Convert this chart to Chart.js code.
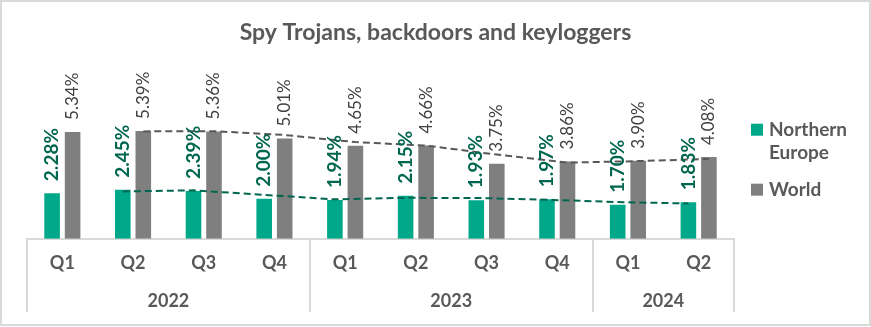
<!DOCTYPE html>
<html>
<head>
<meta charset="utf-8">
<title>Spy Trojans, backdoors and keyloggers</title>
<script src="https://cdn.jsdelivr.net/npm/chart.js@4.4.1/dist/chart.umd.min.js"></script>
<style>
  html, body { margin: 0; padding: 0; background: #fff; }
</style>
</head>
<body>
<canvas id="chart" width="871" height="327"></canvas>
<script>
// data
const QUARTERS = ['Q1', 'Q2', 'Q3', 'Q4', 'Q1', 'Q2', 'Q3', 'Q4', 'Q1', 'Q2'];
const YEARS = ['2022', '2023', '2024'];
const QUARTERS_PER_YEAR = [4, 4, 2];
const NORTHERN_EUROPE = [2.28, 2.45, 2.39, 2.00, 1.94, 2.15, 1.93, 1.97, 1.70, 1.83];
const WORLD = [5.34, 5.39, 5.36, 5.01, 4.65, 4.66, 3.75, 3.86, 3.90, 4.08];
const SERIES_NAMES = [['Northern', 'Europe'], ['World']];

const FONT = 'Lato';
const TEXT_GREY = '#595959';
const BAR_COLORS = ['#00A88A', '#7F7F7F'];
const LABEL_COLORS = ['#00664F', '#404040'];
const TREND_COLORS = ['#00664F', '#595959'];
const CAT_PCT = 0.58;
const BAR_PCT = 0.76;

const points = values => values.map((v, i) => ({ x: i, y: v }));

// 2-period moving average trendline (as in the spreadsheet), placed over each bar
function movingAverage(values, side) {
    const shift = side * CAT_PCT / 4;
    const pts = [];
    for (let i = 1; i < values.length; i++) {
        pts.push({ x: i + shift, y: (values[i - 1] + values[i]) / 2 });
    }
    return pts;
}

// year boundaries and centres in category units
const yearEdges = [-0.5];
const yearCentres = [];
QUARTERS_PER_YEAR.forEach(n => {
    const start = yearEdges[yearEdges.length - 1];
    yearCentres.push(start + n / 2);
    yearEdges.push(start + n);
});

const frame = {
    id: 'frame',
    beforeDraw(chart) {
        const ctx = chart.ctx;
        ctx.save();
        ctx.fillStyle = '#fff';
        ctx.fillRect(0, 0, chart.width, chart.height);
        ctx.restore();
    },
    afterDraw(chart) {
        const ctx = chart.ctx;
        const area = chart.chartArea;
        const x = chart.scales.x;
        ctx.save();
        ctx.strokeStyle = '#D9D9D9';
        ctx.lineWidth = 2;
        ctx.strokeRect(1, 1, chart.width - 2, chart.height - 3);
        // year separators under the axis
        yearEdges.forEach(v => {
            const px = Math.round(x.getPixelForValue(v));
            ctx.beginPath();
            ctx.moveTo(px, area.bottom);
            ctx.lineTo(px, area.bottom + 73);
            ctx.stroke();
        });
        // legend
        let y = (area.top + area.bottom) / 2 - 19;
        const boxX = area.right + 17;
        ctx.font = 'bold 19px ' + FONT;
        ctx.textBaseline = 'middle';
        ctx.textAlign = 'left';
        SERIES_NAMES.forEach((lines, k) => {
            ctx.fillStyle = BAR_COLORS[k];
            ctx.fillRect(boxX, y - 6, 12, 12);
            ctx.fillStyle = TEXT_GREY;
            lines.forEach((t, j) => {
                ctx.fillText(t, boxX + 18, y + j * 23);
            });
            y += lines.length * 23 + 14;
        });
        ctx.restore();
    }
};

const barLabels = {
    id: 'barLabels',
    afterDatasetsDraw(chart) {
        const ctx = chart.ctx;
        [0, 1].forEach(di => {
            const meta = chart.getDatasetMeta(di);
            ctx.save();
            ctx.fillStyle = LABEL_COLORS[di];
            ctx.font = di === 0 ? 'bold 19px ' + FONT : '17px ' + FONT;
            ctx.textAlign = 'left';
            ctx.textBaseline = 'middle';
            meta.data.forEach((bar, i) => {
                const v = chart.data.datasets[di].data[i].y;
                ctx.save();
                ctx.translate(bar.x, bar.y - 12);
                ctx.rotate(-Math.PI / 2);
                ctx.fillText(v.toFixed(2) + '%', 0, 0);
                ctx.restore();
            });
            ctx.restore();
        });
    }
};

const hiddenAxis = (position, width) => ({
    position: position,
    display: true,
    grid: { display: false },
    border: { display: false },
    ticks: { display: false },
    afterFit(scale) { scale.width = width; }
});

new Chart(document.getElementById('chart'), {
    type: 'bar',
    data: {
        datasets: [
            {
                label: 'Northern Europe',
                data: points(NORTHERN_EUROPE),
                backgroundColor: BAR_COLORS[0],
                categoryPercentage: CAT_PCT,
                barPercentage: BAR_PCT,
                order: 1
            },
            {
                label: 'World',
                data: points(WORLD),
                backgroundColor: BAR_COLORS[1],
                categoryPercentage: CAT_PCT,
                barPercentage: BAR_PCT,
                order: 1
            },
            {
                type: 'line',
                label: 'Northern Europe trend',
                data: movingAverage(NORTHERN_EUROPE, -1),
                borderColor: TREND_COLORS[0],
                borderWidth: 2,
                borderDash: [7, 4],
                pointRadius: 0,
                fill: false,
                order: 0
            },
            {
                type: 'line',
                label: 'World trend',
                data: movingAverage(WORLD, 1),
                borderColor: TREND_COLORS[1],
                borderWidth: 2,
                borderDash: [7, 4],
                pointRadius: 0,
                fill: false,
                order: 0
            }
        ]
    },
    options: {
        responsive: false,
        animation: false,
        layout: { padding: { bottom: 13 } },
        plugins: {
            legend: { display: false },
            tooltip: { enabled: false },
            title: {
                display: true,
                text: 'Spy Trojans, backdoors and keyloggers',
                color: TEXT_GREY,
                font: { family: FONT, size: 23, weight: 'bold' },
                padding: { top: 19, bottom: 12 }
            }
        },
        scales: {
            y: Object.assign(hiddenAxis('left', 27), { min: 0, max: 9 }),
            yRight: Object.assign(hiddenAxis('right', 137), { type: 'linear' }),
            x: {
                type: 'linear',
                weight: 0,
                offset: false,
                min: -0.5,
                max: 9.5,
                grid: { display: false, drawTicks: false, offset: false },
                border: { color: '#D9D9D9', width: 2 },
                afterBuildTicks(axis) {
                    axis.ticks = QUARTERS.map((q, i) => ({ value: i }));
                },
                ticks: {
                    color: TEXT_GREY,
                    font: { family: FONT, size: 18, weight: 'bold' },
                    padding: 14,
                    maxRotation: 0,
                    autoSkip: false,
                    callback: (v, i) => QUARTERS[i]
                }
            },
            x2: {
                type: 'linear',
                position: 'bottom',
                weight: 1,
                offset: false,
                min: -0.5,
                max: 9.5,
                grid: { display: false, drawTicks: false, offset: false },
                border: { display: false },
                afterBuildTicks(axis) {
                    axis.ticks = yearCentres.map(v => ({ value: v }));
                },
                ticks: {
                    color: TEXT_GREY,
                    font: { family: FONT, size: 18, weight: 'bold' },
                    padding: 2,
                    autoSkip: false,
                    maxRotation: 0,
                    callback: (v, i) => YEARS[i]
                }
            }
        }
    },
    plugins: [frame, barLabels]
});
</script>
</body>
</html>
